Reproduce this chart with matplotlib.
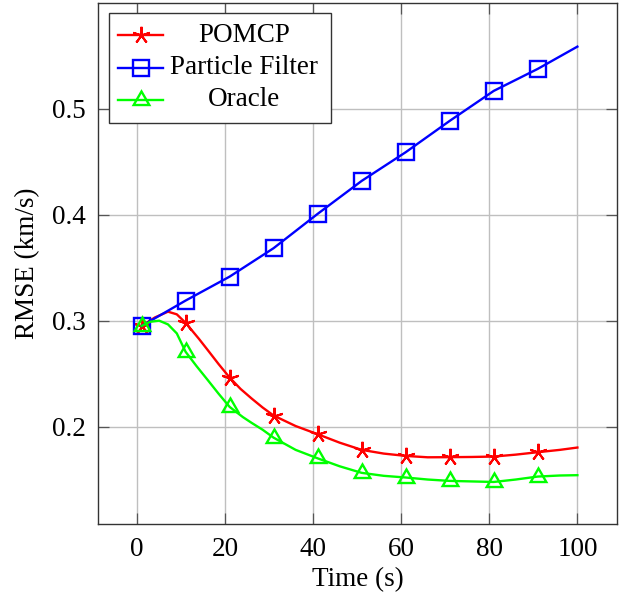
import numpy as np
import matplotlib
matplotlib.use("Agg")
import matplotlib.pyplot as plt
from matplotlib.patches import Rectangle

# ---- data ----
x_pomcp = [1, 4, 7, 9, 11, 12.5, 14, 16, 18.5, 21, 23.5, 26, 28.5, 31, 36, 41, 46, 51, 56, 61, 66, 71, 76,
           81, 86, 91, 96, 100]
pomcp = [0.295, 0.303, 0.3085, 0.306, 0.298, 0.2905, 0.283, 0.2724, 0.259, 0.2463, 0.2355, 0.2265, 0.218,
         0.2104, 0.2005, 0.1928, 0.1848, 0.178, 0.1745, 0.1723, 0.1710, 0.1711, 0.1713, 0.1717, 0.1735,
         0.1758, 0.178, 0.1802]

x_pf = [1, 11, 21, 31, 41, 51, 61, 71, 81, 91, 100]
pf = [0.295, 0.319, 0.3416, 0.3685, 0.4009, 0.432, 0.4591, 0.4887, 0.517, 0.5378, 0.5588]

x_oracle = [1, 3, 5, 7, 9, 11, 13.5, 16, 18.5, 21, 24, 26, 28.5, 31, 36, 41, 46, 51, 56, 61, 66, 71, 76,
            81, 86, 91, 96, 100]
oracle = [0.295, 0.299, 0.300, 0.2965, 0.288, 0.2706, 0.257, 0.2441, 0.231, 0.2186, 0.209, 0.2035, 0.197,
          0.1895, 0.178, 0.170, 0.1625, 0.1563, 0.1535, 0.1519, 0.150, 0.1487, 0.1482, 0.1477, 0.150,
          0.1528, 0.1538, 0.1541]

mark_x = [1, 11, 21, 31, 41, 51, 61, 71, 81, 91]
labels = ["POMCP", "Particle Filter", "Oracle"]
xticks = [0, 20, 40, 60, 80, 100]
yticks = [0.2, 0.3, 0.4, 0.5]

plt.rcParams['font.family'] = ['Liberation Serif', 'DejaVu Serif']
FS = 19.5
LW = 1.7

fig = plt.figure(figsize=(6.29, 5.99), dpi=100)
L, R, T, B = 98, 617, 3, 524
W, H = 629, 599
ax = fig.add_axes([L / W, (H - B) / H, (R - L) / W, (B - T) / H])

star = (5, 2, 0)
tri = (3, 0, 0)
styles = [
    dict(color='#ff0000', marker=star, ms=12.5, mew=1.5),
    dict(color='#0000ff', marker='s', ms=11.5, mew=1.7),
    dict(color='#00ff00', marker=tri, ms=13, mew=1.7),
]
series = [(x_pomcp, pomcp), (x_pf, pf), (x_oracle, oracle)]

for (xs, ys), st in zip(series, styles):
    xs = np.asarray(xs)
    idx = list(np.nonzero(np.isin(xs, mark_x))[0])
    ax.plot(xs, ys, color=st['color'], lw=LW, marker=st['marker'], ms=st['ms'],
            mew=st['mew'], mfc='none', mec=st['color'], markevery=idx, zorder=3,
            solid_joinstyle='round')

ax.set_xlim(-8.9, 109)
ax.set_ylim(0.108, 0.600)
ax.set_xticks(xticks)
ax.set_yticks(yticks)
ax.set_xticklabels([str(v) for v in xticks])
ax.set_yticklabels([f"{v:.1f}" for v in yticks])
ax.grid(True, color='#bfbfbf', lw=1.0)
ax.set_axisbelow(True)
ax.tick_params(direction='in', length=8, width=0.9, color='#555555', top=True, right=True,
               labelsize=FS, pad=9)
for sp in ax.spines.values():
    sp.set_color('#333333')
    sp.set_linewidth(1.0)

ax.set_xlabel("Time (s)", fontsize=FS, labelpad=4)
ax.set_ylabel("RMSE (km/s)", fontsize=FS, labelpad=8)

# ---- legend (pgfplots style: centered text column) ----
def ax_xy(px, py):
    return (px - L) / (R - L), (B - py) / (B - T)

x0, y1 = ax_xy(109, 13.5)
x1, y0 = ax_xy(331, 122.5)
ax.add_patch(Rectangle((x0, y0), x1 - x0, y1 - y0, transform=ax.transAxes, facecolor='white',
                       edgecolor='#333333', lw=1.0, zorder=5, clip_on=False))
rows = [35, 68, 100]
for lab, st, py in zip(labels, styles, rows):
    hx0, hy = ax_xy(117.7, py)
    hx1, _ = ax_xy(163.3, py)
    hxm, _ = ax_xy(140.5, py)
    ax.plot([hx0, hx1], [hy, hy], color=st['color'], lw=LW, transform=ax.transAxes, zorder=6,
            clip_on=False)
    ax.plot([hxm], [hy], color=st['color'], marker=st['marker'], ms=st['ms'], mew=st['mew'],
            mfc='none', mec=st['color'], transform=ax.transAxes, zorder=6, clip_on=False)
    tx, _ = ax_xy(244, py)
    ax.text(tx, hy, lab, transform=ax.transAxes, ha='center', va='center', fontsize=FS, zorder=7)

fig.savefig("out.png", dpi=100)
